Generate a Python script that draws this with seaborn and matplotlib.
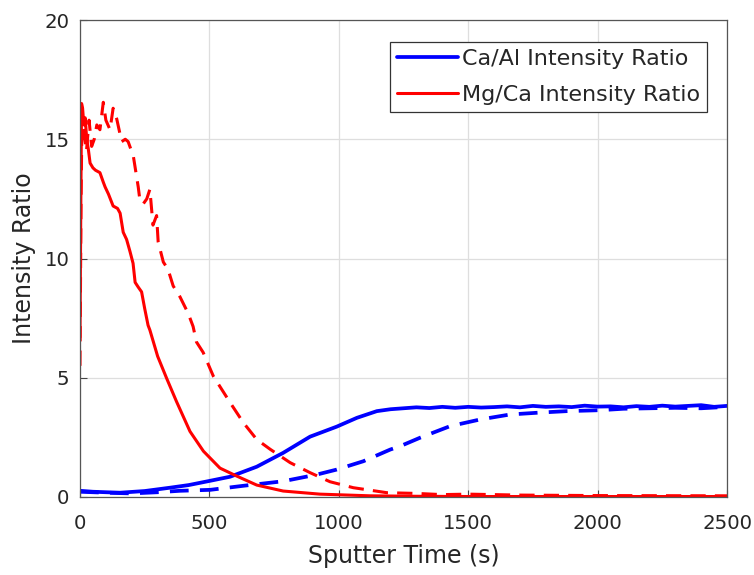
import matplotlib
matplotlib.use("Agg")
import matplotlib.pyplot as plt
import seaborn as sns

# ---- data ----
mgca1_t = [0, 3, 6, 10, 15, 20, 26, 32, 39, 50, 60, 77, 90, 97, 110, 128, 145, 155, 167,
           180, 193, 205, 213, 225, 238, 250, 263, 270, 300, 335, 373, 425, 477, 541, 605,
           683, 785, 927, 1120, 1300, 1500, 2000, 2500]
mgca1_v = [6.7, 12.0, 16.5, 16.3, 15.6, 15.9, 15.0, 14.6, 14.0, 13.8, 13.7, 13.6, 13.2, 13.0,
           12.7, 12.2, 12.1, 11.9, 11.1, 10.8, 10.3, 9.8, 9.0, 8.8, 8.6, 7.9, 7.2, 7.0, 5.9,
           4.97, 4.0, 2.75, 1.92, 1.21, 0.88, 0.5, 0.25, 0.12, 0.05, 0.03, 0.02, 0.02, 0.02]

mgca2_t = [0, 4, 8, 15, 25, 35, 45, 55, 65, 77, 90, 100, 116, 128, 142, 161, 175, 186, 206,
           225, 232, 245, 258, 270, 282, 296, 302, 322, 340, 360, 386, 418, 437, 450, 476,
           515, 580, 631, 683, 735, 812, 889, 966, 1056, 1186, 1300, 1400, 1500, 1700, 2000, 2500]
mgca2_v = [5.5, 12.5, 16.1, 15.3, 14.5, 15.8, 14.7, 15.0, 15.6, 15.4, 16.55, 15.8, 15.4, 16.3,
           15.85, 14.9, 15.0, 14.9, 14.3, 13.0, 12.4, 12.3, 12.5, 12.9, 11.4, 11.8, 10.7, 9.85,
           9.55, 8.85, 8.4, 7.7, 7.15, 6.5, 6.06, 5.07, 3.96, 3.12, 2.41, 2.0, 1.44, 1.02, 0.64,
           0.39, 0.18, 0.15, 0.1, 0.12, 0.08, 0.06, 0.05]

caal1_t = [0, 50, 100, 155, 250, 348, 420, 503, 580, 683, 785, 889, 992, 1070, 1147, 1200,
           1250, 1300, 1350, 1400, 1450, 1500, 1550, 1600, 1650, 1700, 1750, 1800, 1850, 1900,
           1950, 2000, 2050, 2100, 2150, 2200, 2250, 2300, 2350, 2400, 2450, 2500]
caal1_v = [0.26, 0.22, 0.2, 0.18, 0.25, 0.39, 0.5, 0.68, 0.85, 1.27, 1.85, 2.53, 2.95, 3.32,
           3.6, 3.68, 3.72, 3.76, 3.73, 3.78, 3.74, 3.78, 3.75, 3.77, 3.8, 3.76, 3.82, 3.78,
           3.8, 3.77, 3.83, 3.79, 3.8, 3.76, 3.81, 3.78, 3.83, 3.79, 3.82, 3.85, 3.78, 3.82]

caal2_t = [0, 100, 200, 300, 386, 503, 631, 785, 915, 992, 1095, 1199, 1237, 1315, 1430, 1546,
           1662, 1778, 1881, 2010, 2100, 2200, 2300, 2400, 2500]
caal2_v = [0.22, 0.18, 0.15, 0.2, 0.26, 0.3, 0.47, 0.66, 0.94, 1.15, 1.5, 1.99, 2.13, 2.49,
           2.97, 3.25, 3.46, 3.54, 3.6, 3.64, 3.7, 3.72, 3.74, 3.72, 3.78]

legend_labels = ["Ca/Al Intensity Ratio", "Mg/Ca Intensity Ratio"]
x_ticks = [0, 500, 1000, 1500, 2000, 2500]
y_ticks = [0, 5, 10, 15, 20]

# ---- style ----
sns.set_theme(style="white")
plt.rcParams["font.family"] = ["DejaVu Sans"]
txt = "#262626"

fig = plt.figure(figsize=(7.54, 5.75), dpi=100)
ax = fig.add_axes([80 / 754, 1 - 497 / 575, 647 / 754, 477 / 575])

dash = (0, (5, 3))
sns.lineplot(x=caal1_t, y=caal1_v, ax=ax, color="#0000ff", lw=2.7, sort=False)
sns.lineplot(x=caal2_t, y=caal2_v, ax=ax, color="#0000ff", lw=2.7, linestyle=dash, sort=False)
sns.lineplot(x=mgca1_t, y=mgca1_v, ax=ax, color="#ff0000", lw=2.2, sort=False)
sns.lineplot(x=mgca2_t, y=mgca2_v, ax=ax, color="#ff0000", lw=2.2, linestyle=dash, sort=False)

lines = ax.get_lines()
leg = ax.legend([lines[0], lines[2]], legend_labels, loc="upper right",
                bbox_to_anchor=(0.969, 0.954), fontsize=16, frameon=True, fancybox=False,
                edgecolor="#333333", framealpha=1, borderpad=0.3, handlelength=2.75,
                handletextpad=0.2, labelspacing=0.75, borderaxespad=0)
leg.get_frame().set_linewidth(0.9)

ax.set_xlim(0, 2500)
ax.set_ylim(0, 20)
ax.set_xticks(x_ticks)
ax.set_yticks(y_ticks)
ax.grid(True, color="#dedede", lw=0.9)
ax.set_axisbelow(True)
for s in ax.spines.values():
    s.set_visible(True)
    s.set_color("#555555")
    s.set_linewidth(0.9)
ax.tick_params(direction="in", length=5, width=0.8, colors="#444444",
               labelcolor=txt, labelsize=14.2, bottom=True, left=True)
ax.tick_params(axis="x", pad=12)
ax.tick_params(axis="y", pad=7.5)
ax.set_xlabel("Sputter Time (s)", fontsize=17, color=txt, labelpad=8.5)
ax.set_ylabel("Intensity Ratio", fontsize=17, color=txt, labelpad=6)

fig.savefig("out.png", dpi=100)
